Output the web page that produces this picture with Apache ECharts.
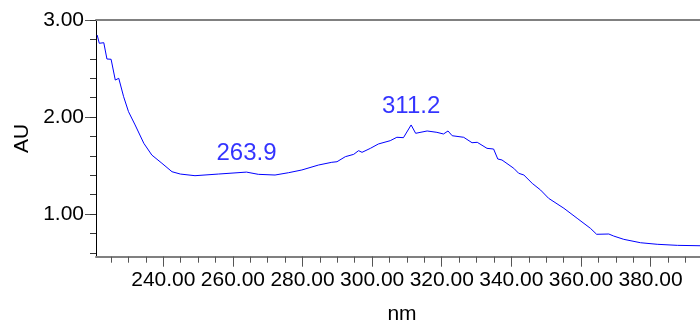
<!DOCTYPE html>
<html>
<head>
<meta charset="utf-8">
<script src="https://cdn.jsdelivr.net/npm/echarts@6/dist/echarts.min.js"></script>
<style>
html,body{margin:0;padding:0;background:#fff;}
#chart{width:700px;height:322px;}
</style>
</head>
<body>
<div id="chart"></div>
<script>
// Wavelength (nm) and absorbance (AU)
var wavelengths = [221.0,221.6,222.9,223.8,225.0,226.2,227.2,228.6,230.0,231.9,234.4,236.7,239.6,242.5,244.9,249.1,255.8,263.9,267.3,272.1,276.0,279.8,284.6,288.4,289.9,292.3,294.7,296.1,297.1,299.5,301.8,305.2,307.1,309.0,311.2,312.5,315.8,318.6,320.5,321.8,323.0,326.3,328.7,330.2,333.0,334.9,336.1,337.3,340.7,342.1,343.6,346.0,348.4,350.7,355.1,358.9,362.7,364.5,368.0,369.4,372.3,377.1,381.9,387.7,394.2];
var absorbance = [2.845,2.760,2.766,2.598,2.595,2.381,2.399,2.209,2.055,1.918,1.729,1.608,1.523,1.436,1.412,1.395,1.412,1.432,1.409,1.402,1.426,1.454,1.505,1.533,1.539,1.591,1.615,1.653,1.636,1.677,1.722,1.756,1.791,1.787,1.918,1.832,1.856,1.842,1.825,1.856,1.807,1.791,1.735,1.739,1.677,1.670,1.567,1.557,1.471,1.420,1.402,1.316,1.247,1.162,1.059,0.956,0.853,0.791,0.794,0.773,0.739,0.704,0.688,0.677,0.673];
var peakNm = [263.9, 311.2];
var peakAu = [1.432, 1.918];
var xMajorTicks = [240,260,280,300,320,340,360,380];
var xMinorTicks = [225,230,235,240,245,250,255,260,265,270,275,280,285,290,295,300,305,310,315,320,325,330,335,340,345,350,355,360,365,370,375,380,385,390];
var yMajorTicks = [1,2,3];
var yMinorTicks = [0.6,0.8,1.0,1.2,1.4,1.6,1.8,2.0,2.2,2.4,2.6,2.8,3.0];

var lineData = wavelengths.map(function(w,i){return [w, absorbance[i]];});
var peakData = peakNm.map(function(w,i){return [w, peakAu[i]];});

var FONT = 'Liberation Sans, Arial, sans-serif';
var xMin = 220.66, xMax = 394.2, yMin = 0.56, yMax = 3.0;

var chart = echarts.init(document.getElementById('chart'), null, {renderer:'canvas'});
chart.setOption({
  animation: false,
  backgroundColor: '#ffffff',
  grid: {left: 96, right: 0, top: 20, bottom: 65.3, containLabel: false, outerBoundsMode: 'none'},
  xAxis: [
    {
      type: 'value', position: 'bottom', min: xMin, max: xMax,
      name: 'nm', nameLocation: 'middle', nameGap: 47,
      nameTextStyle: {fontFamily: FONT, fontSize: 21, color: '#000', padding: [0,0,0,8]},
      axisLine: {show: true, lineStyle: {color: '#808080', width: 2}},
      axisTick: {show: true, inside: false, length: 10, customValues: xMajorTicks, lineStyle: {color: '#555', width: 1}},
      axisLabel: {show: true, customValues: xMajorTicks, margin: 13, fontFamily: FONT, fontSize: 21, color: '#000',
        formatter: function(v){return Number(v).toFixed(2);}},
      splitLine: {show: false}
    },
    {
      type: 'value', position: 'bottom', min: xMin, max: xMax,
      axisLine: {show: false},
      axisTick: {show: true, length: 6, customValues: xMinorTicks, lineStyle: {color: '#555', width: 1}},
      axisLabel: {show: false},
      splitLine: {show: false}
    },
    {
      type: 'value', position: 'top', min: xMin, max: xMax,
      axisLine: {show: true, lineStyle: {color: '#808080', width: 2}},
      axisTick: {show: false},
      axisLabel: {show: false},
      splitLine: {show: false}
    }
  ],
  yAxis: [
    {
      type: 'value', position: 'left', min: yMin, max: yMax,
      name: 'AU', nameLocation: 'middle', nameGap: 62, nameRotate: 90,
      nameTextStyle: {fontFamily: FONT, fontSize: 21, color: '#000'},
      axisLine: {show: true, lineStyle: {color: '#000', width: 1}},
      axisTick: {show: true, length: 11, customValues: yMajorTicks, lineStyle: {color: '#555', width: 1}},
      axisLabel: {show: true, customValues: yMajorTicks, margin: 12, fontFamily: FONT, fontSize: 21, color: '#000',
        formatter: function(v){return Number(v).toFixed(2);}},
      splitLine: {show: false}
    },
    {
      type: 'value', position: 'left', min: yMin, max: yMax,
      axisLine: {show: false},
      axisTick: {show: true, length: 6, customValues: yMinorTicks, lineStyle: {color: '#333', width: 1}},
      axisLabel: {show: false},
      splitLine: {show: false}
    }
  ],
  series: [
    {
      type: 'line', xAxisIndex: 0, yAxisIndex: 0,
      data: lineData, showSymbol: false, symbol: 'none', smooth: false,
      lineStyle: {color: '#0000ff', width: 1},
      silent: true
    },
    {
      type: 'scatter', xAxisIndex: 0, yAxisIndex: 0,
      data: peakData, symbol: 'circle', symbolSize: 1,
      itemStyle: {color: 'rgba(0,0,0,0)'},
      label: {show: true, position: 'top', distance: 6, fontFamily: FONT, fontSize: 24, color: '#0000ff',
        formatter: function(p){return p.value[0].toFixed(1);}},
      silent: true
    }
  ]
});
</script>
</body>
</html>
